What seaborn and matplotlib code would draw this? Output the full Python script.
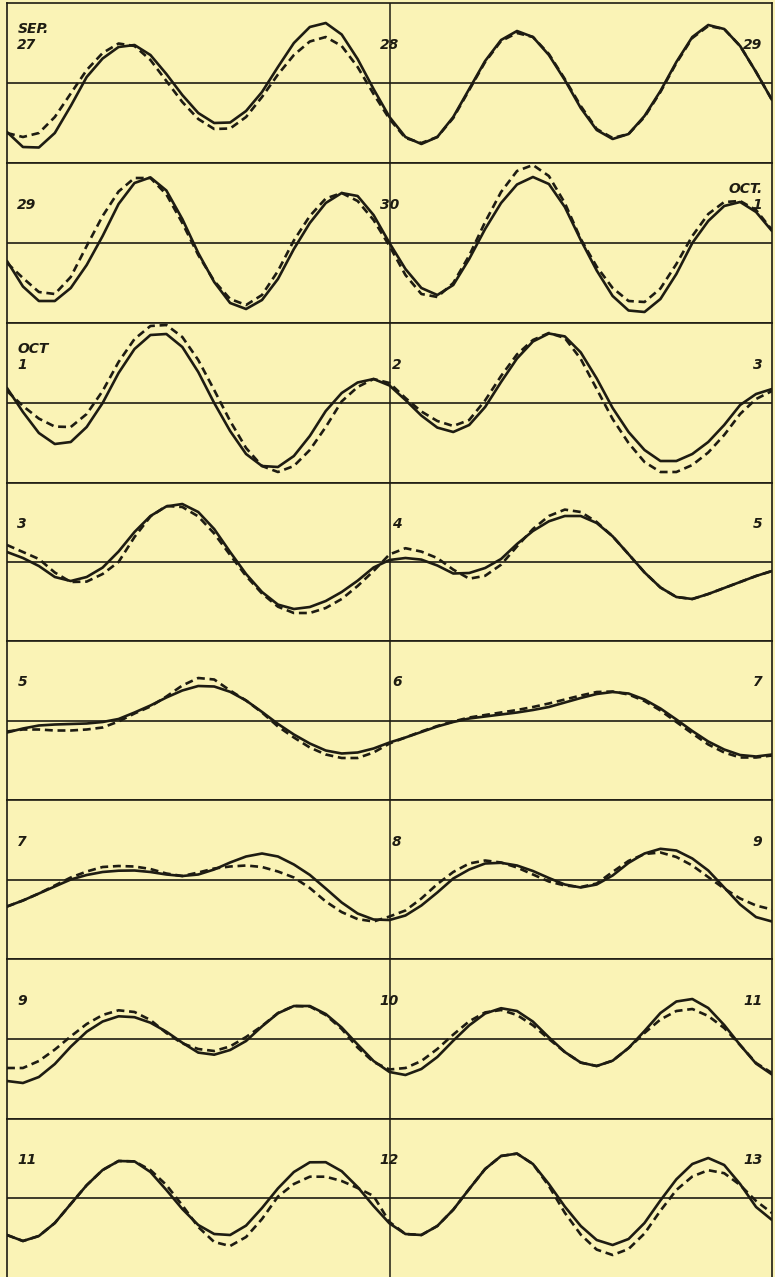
import matplotlib
matplotlib.use("Agg")
import matplotlib.pyplot as plt
import pandas as pd
import seaborn as sns

# ---------------- data (tide level, arbitrary units; 0 = mean level) ----------------
hours = list(range(49))  # 0..48 h : two days per strip

left_labels = ["SEP.\n27", "29", "OCT\n1", "3", "5", "7", "9", "11"]
center_labels = ["28", "30", "2", "4", "6", "8", "10", "12"]
right_labels = ["29", "OCT.\n1", "3", "5", "7", "9", "11", "13"]

observed_1 = [-49, -64, -64.5, -50, -23, 6, 24.5, 36, 38, 28, 9, -12, -30, -40, -39.5, -28, -9, 16, 40, 56, 60, 48.5, 24, -6, -34,
              -54, -61, -54, -34, -6, 22, 43, 52, 46, 28, 3, -25, -47, -56, -51, -33, -8, 21, 46, 58, 54, 37, 11, -17]
predicted_1 = [-50, -54, -50, -34, -10.5, 13, 30, 39.5, 37, 23, 2, -19, -36, -46, -45.5, -34, -14, 8.5, 28, 41.5, 46, 37, 16, -11, -36,
               -55, -60, -54, -35, -7, 21, 42, 50, 46, 29, 4, -23, -46, -55, -51, -34, -9, 20, 45, 57, 54, 37, 11, -17]

observed_2 = [-18, -43.5, -58, -58, -45, -22, 7, 39, 60, 65.6, 52.5, 24, -10, -39, -60, -66, -57, -36, -6, 20, 40, 50, 47, 28, 0,
              -26, -45, -52, -42, -16, 14, 40, 58.5, 66, 59, 36, 3, -27.5, -53, -67.5, -69, -56, -31, 0, 22, 37, 41, 31, 12]
predicted_2 = [-20, -35, -49, -51, -34, -3, 27, 51.5, 65, 65, 48.6, 20, -12, -38, -56, -62, -52, -28, 2.6, 27, 44.5, 50, 42, 23, -3,
               -32, -51, -54, -40, -12.6, 21, 51, 72, 78, 67, 40, 4, -23.6, -45, -58, -59, -45.5, -21, 7, 29, 41, 42, 33, 13]

observed_3 = [15, -9, -30, -41, -39, -24, 0, 30, 54, 68, 69, 56, 31, 0, -28, -51, -63, -64, -53, -33, -8, 10, 20.5, 24, 17.5,
              3, -12.6, -24.6, -29, -22, -4, 21, 44.5, 61.5, 69.5, 66.6, 50.6, 24.6, -5, -29, -47, -58, -58, -51, -39, -22, -2, 9, 14]
predicted_3 = [12, -3, -15.6, -23.6, -24, -11, 12, 41, 64, 77, 78, 66, 43, 13, -18, -45, -63, -69, -63, -47, -24, 1.6, 16, 24, 20,
               5, -8.5, -18, -23, -17, 2.6, 27, 48.6, 63, 70, 65, 44, 14, -16, -40, -59, -69, -69, -62, -49.5, -32, -11, 4, 12]

observed_4 = [10, 4, -4, -15, -19, -15, -5.6, 10.5, 30, 46, 55.6, 58, 50, 33, 10, -12, -30, -42.6, -47, -45, -39, -30, -18.7, -5.5, 2,
              4, 2.4, -3.5, -11.5, -11, -6, 3, 18, 31, 40.7, 46, 46, 39, 25.7, 7.8, -10.4, -25.5, -35, -37, -32, -26, -20, -14, -9]
predicted_4 = [17, 10, 3, -10.5, -20, -19.6, -12, 0, 25, 45.5, 56, 55, 45.6, 28.5, 7, -14, -31.5, -44.7, -51, -51, -46, -37, -24, -9, 7.6,
               13.8, 10.4, 3.9, -7.6, -16.7, -13.8, -2.7, 15.6, 33, 46, 52.4, 50, 40, 25.7, 7.8, -10.4, -25.5, -35, -37, -32, -26, -20, -14, -9]

observed_5 = [-12, -8, -5, -4, -3.5, -3, -1.5, 1.5, 8, 15, 23, 30, 34.5, 34, 28.7, 20, 8.6, -3.4, -14, -23, -30, -33, -32, -28, -22,
              -17, -11.5, -6, -1.5, 2, 4, 6, 8, 10.5, 13.5, 18, 22.5, 26.5, 28.5, 27, 21, 12, 1, -10.5, -21, -29, -34.5, -36, -34]
predicted_5 = [-11, -9, -9, -10, -10, -9, -7, -1, 7, 14, 24, 35, 42.5, 41, 30, 20, 8, -6, -17, -27, -34, -37.5, -37.5, -32, -23,
               -17, -11, -5.5, -1, 3, 5.5, 8, 10.5, 13.5, 17, 21, 25, 28.5, 29, 26, 19.5, 10, -1.5, -13, -24, -32, -37, -37, -35]

observed_6 = [-27, -21, -14, -7, 0, 4.5, 7.5, 8.8, 9, 7.5, 5, 3.5, 5, 10, 17, 23, 26, 23, 15, 4.6, -9, -23, -34, -40, -40.5,
              -36, -26, -13, 1, 10, 16, 16.7, 14, 8.5, 1.5, -5, -8, -5, 4, 16.6, 26, 30.7, 29, 21, 9, -8, -25, -37.6, -42]
predicted_6 = [-27, -21, -14, -6, 2, 8, 12.5, 13.5, 13, 10.5, 6, 3.5, 7, 11, 13, 14, 12.5, 8, 2, -8.5, -22, -32.6, -39.6, -42, -37,
               -31, -19, -4.6, 7.5, 16, 19, 17, 12, 5, -2, -6, -7.5, -4, 7.6, 18.6, 25.5, 27, 22.5, 14, 2.4, -9, -19, -26, -30]

observed_7 = [-42, -44, -38, -25, -7.7, 7.3, 17.5, 22.7, 21.8, 16.3, 7.3, -3.7, -13.6, -15.7, -11, -2, 12.6, 25.7, 33, 33, 25, 11.5, -5.5, -22, -33,
              -36, -30, -18, -1.7, 13.6, 25.5, 30.8, 28, 17.4, 1.7, -13, -23.6, -27, -21.7, -9, 8, 26, 37.5, 40, 31, 14, -6, -24.6, -35.5]
predicted_7 = [-29, -29, -22, -10.6, 2.6, 15, 24, 28.7, 27, 19, 6, -4.4, -10, -12, -7.4, 2, 13, 26, 33, 32.5, 24, 10, -8.6, -23, -30.5,
               -29, -22, -10, 4.4, 17.7, 26.6, 29, 24, 13.7, 0, -13, -23.6, -27, -21.7, -9, 6, 19.5, 28, 30, 23, 11, -6, -24, -34]

observed_8 = [-37, -43, -38, -25, -6, 12.8, 28, 37, 36.6, 26, 8, -11, -27, -36, -37, -27.6, -10, 9.6, 26, 35.7, 35.8, 26.8, 11, -8, -25.4,
              -36, -37, -28, -11.7, 9, 29, 42, 44.4, 34, 14, -8.6, -28, -42, -47, -41, -25, -2.4, 18.7, 34, 40, 33, 14, -9, -22]
predicted_8 = [-37, -43, -38, -25, -6, 12.8, 28, 37, 36.6, 28, 13, -7.3, -29, -44, -48, -39, -21, 1.4, 14, 21.3, 21.3, 17, 10, 2, -24,
               -36, -37, -28, -11.7, 9, 29, 42, 44.4, 34, 12, -14.8, -36.6, -51.6, -57, -51, -35.5, -12.7, 8, 21.5, 27.8, 24.8, 13, -3, -15]

observed = [observed_1, observed_2, observed_3, observed_4, observed_5, observed_6, observed_7, observed_8]
predicted = [predicted_1, predicted_2, predicted_3, predicted_4, predicted_5, predicted_6, predicted_7, predicted_8]

records = []
for r, (obs, pre) in enumerate(zip(observed, predicted)):
    for h, o, p in zip(hours, obs, pre):
        records.append({"row": r, "hour": h, "level": o, "kind": "observed"})
        records.append({"row": r, "hour": h, "level": p, "kind": "predicted"})
df = pd.DataFrame(records)

# ---------------- style ----------------
paper = "#FAF3B6"
ink = "#1E1C12"
W, H = 775, 1277
row_edges_px = [3, 163, 323, 483, 641, 800, 959, 1119, 1277]
left_px, right_px = 7, 772

fig = plt.figure(figsize=(W / 100, H / 100), dpi=100, facecolor=paper)
label_font = dict(fontsize=10, fontweight="bold", fontstyle="italic",
                  family="DejaVu Sans", color=ink)

for r in range(8):
    top, bot = row_edges_px[r], row_edges_px[r + 1]
    ax = fig.add_axes([left_px / W, 1 - bot / H, (right_px - left_px) / W, (bot - top) / H])
    ax.set_facecolor(paper)
    sub = df[df["row"] == r]
    sns.lineplot(data=sub, x="hour", y="level", style="kind",
                 style_order=["predicted", "observed"],
                 dashes={"observed": "", "predicted": (3.0, 1.8)},
                 color=ink, linewidth=1.9, estimator=None, legend=False, ax=ax, zorder=3)
    for ln in ax.lines:
        ln.set_solid_joinstyle("round")
        ln.set_dash_joinstyle("round")
        ln.set_solid_capstyle("round")
    ax.axhline(0, color=ink, lw=1.2, zorder=2)
    ax.axvline(24, color=ink, lw=1.1, zorder=2)
    ax.set_xlim(0, 48)
    ax.set_ylim(-(bot - top) / 2, (bot - top) / 2)
    ax.set_xticks([])
    ax.set_yticks([])
    ax.set_xlabel("")
    ax.set_ylabel("")
    for side in ["top", "bottom", "left", "right"]:
        ax.spines[side].set_color(ink)
        ax.spines[side].set_linewidth(1.2)
    if r == 7:
        ax.spines["bottom"].set_visible(False)

    ax.text(0.65, 31, left_labels[r], ha="left", va="bottom",
            multialignment="left", linespacing=1.15, zorder=5, **label_font)
    c = center_labels[r]
    ax.text(24.0 if len(c) > 1 else 24.15, 31, c, ha="center" if len(c) > 1 else "left",
            va="bottom", zorder=5, **label_font)
    ax.text(47.4, 31, right_labels[r], ha="right", va="bottom",
            multialignment="right", linespacing=1.15, zorder=5, **label_font)

fig.savefig("out.png", dpi=100, facecolor=paper)
